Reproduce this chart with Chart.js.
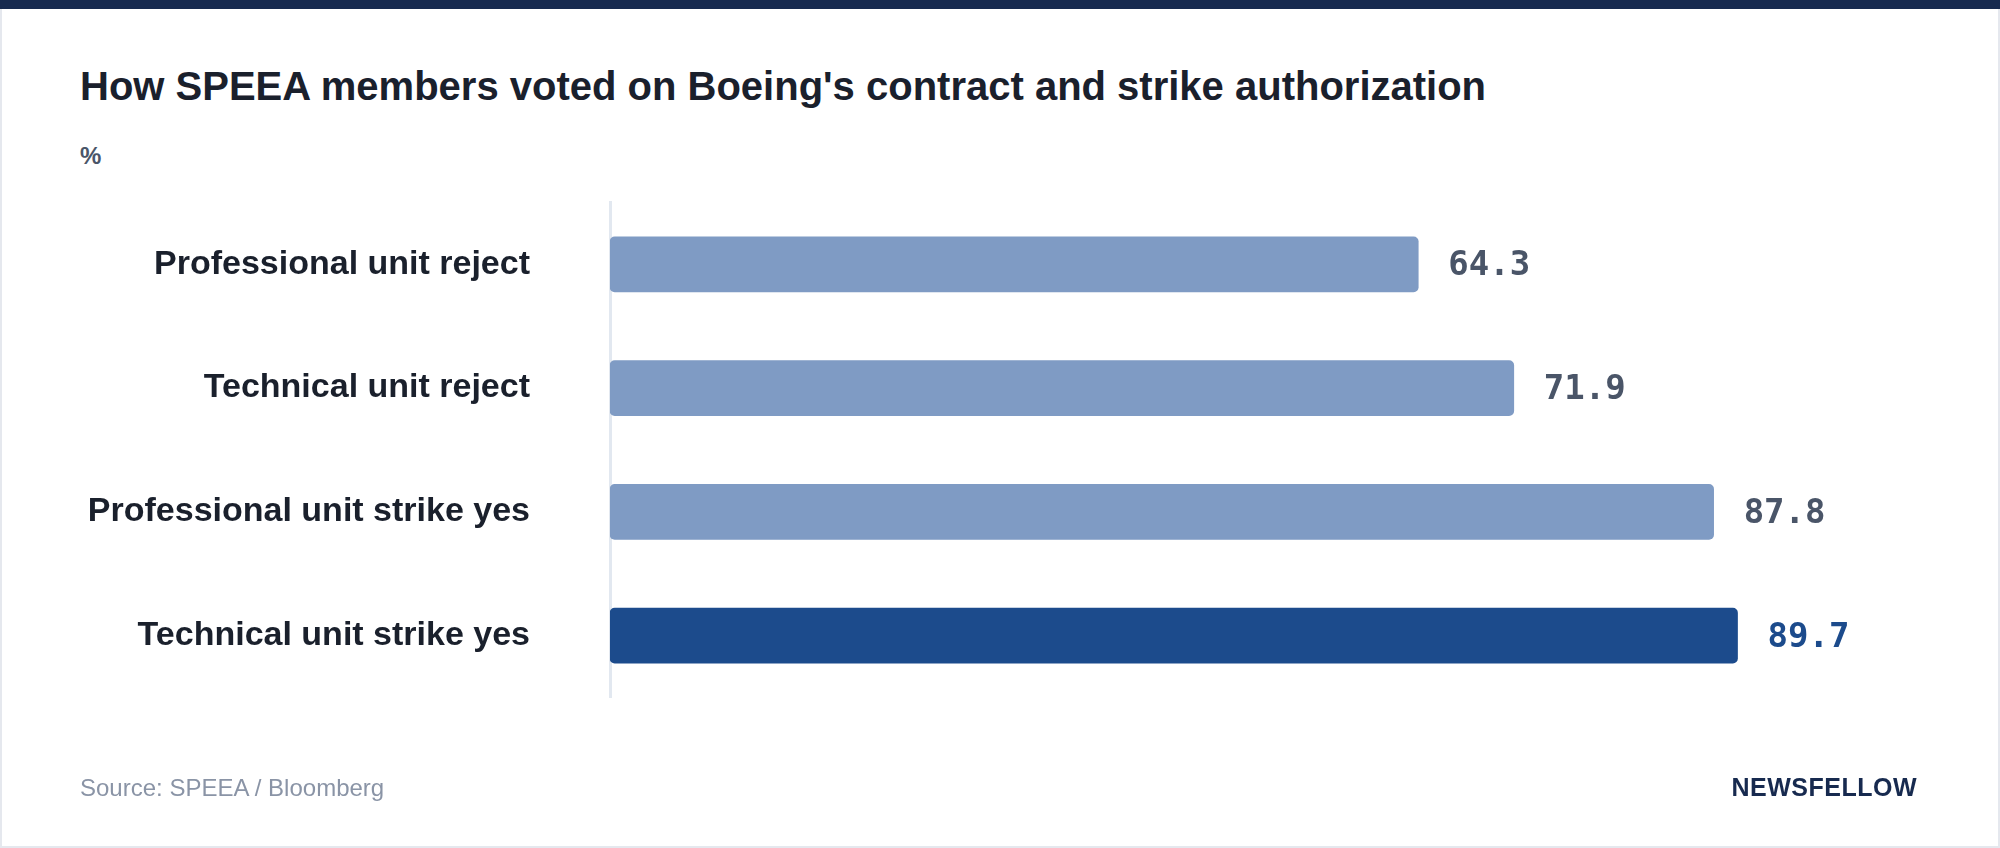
<!DOCTYPE html>
<html>
<head>
<meta charset="utf-8">
<script src="https://cdn.jsdelivr.net/npm/chart.js@4"></script>
<style>
  html, body { margin: 0; width: 2000px; height: 848px; background: #fff; overflow: hidden; font-family: "Liberation Sans", Arial, sans-serif; }
  #card { position: absolute; left: 0; top: 0; width: 1996px; height: 844px; border: 2px solid #e5e8ee; }
  #topbar { position: absolute; left: 0; top: 0; width: 2000px; height: 9px; background: #172a4f; }
  #title { position: absolute; left: 80px; top: 64px; font-size: 40px; font-weight: bold; color: #1a202c; }
  #unit { position: absolute; left: 80px; top: 142px; font-size: 24px; font-weight: bold; color: #4a5568; }
  #source { position: absolute; left: 80px; top: 774px; font-size: 24px; color: #8a94a6; }
  #brand { position: absolute; right: 83px; top: 773px; font-size: 25px; font-weight: bold; color: #172a4f; letter-spacing: 0.5px; }
  #wrap { position: absolute; left: 0; top: 110px; width: 2000px; height: 680px; }
</style>
</head>
<body>
<div id="card"></div>
<div id="topbar"></div>
<div id="title">How SPEEA members voted on Boeing's contract and strike authorization</div>
<div id="unit">%</div>
<div id="wrap"><canvas id="chart"></canvas></div>
<div id="source">Source: SPEEA / Bloomberg</div>
<div id="brand">NEWSFELLOW</div>
<script>
const categories = ["Professional unit reject", "Technical unit reject", "Professional unit strike yes", "Technical unit strike yes"];
const values = [64.3, 71.9, 87.8, 89.7];
const barColors = ["#7f9bc4", "#7f9bc4", "#7f9bc4", "#1c4b8c"];
const labelColors = ["#4a5568", "#4a5568", "#4a5568", "#1c4b8c"];

//draw the value next to each bar
const valueLabels = {
  id: "valueLabels",
  afterDatasetsDraw(chart) {
    const ctx = chart.ctx;
    const meta = chart.getDatasetMeta(0);
    ctx.save();
    ctx.font = "bold 34px 'DejaVu Sans Mono', 'Liberation Mono', monospace";
    ctx.textBaseline = "middle";
    meta.data.forEach((bar, i) => {
      ctx.fillStyle = labelColors[i];
      ctx.fillText(values[i].toFixed(1), bar.x + 30, bar.y + 2);
    });
    ctx.restore();
  }
};

new Chart(document.getElementById("chart"), {
  type: "bar",
  plugins: [valueLabels],
  data: {
    labels: categories,
    datasets: [{
      data: values,
      backgroundColor: barColors,
      borderRadius: 5,
      borderSkipped: false,
      barThickness: 55
    }]
  },
  options: {
    indexAxis: "y",
    responsive: true,
    maintainAspectRatio: false,
    animation: false,
    layout: { padding: { right: 133, top: 0, bottom: 0 } },
    plugins: { legend: { display: false }, tooltip: { enabled: false } },
    scales: {
      x: { display: false, min: 0, max: 100 },
      y: {
        grid: { display: false },
        border: { color: "#e2e8f0", width: 3 },
        ticks: {
          color: "#1a202c",
          padding: 72,
          font: { family: "'Liberation Sans', Arial, sans-serif", size: 34, weight: "bold" }
        },
        afterFit: (s) => { s.width = 610; }
      }
    }
  }
});
</script>
</body>
</html>
